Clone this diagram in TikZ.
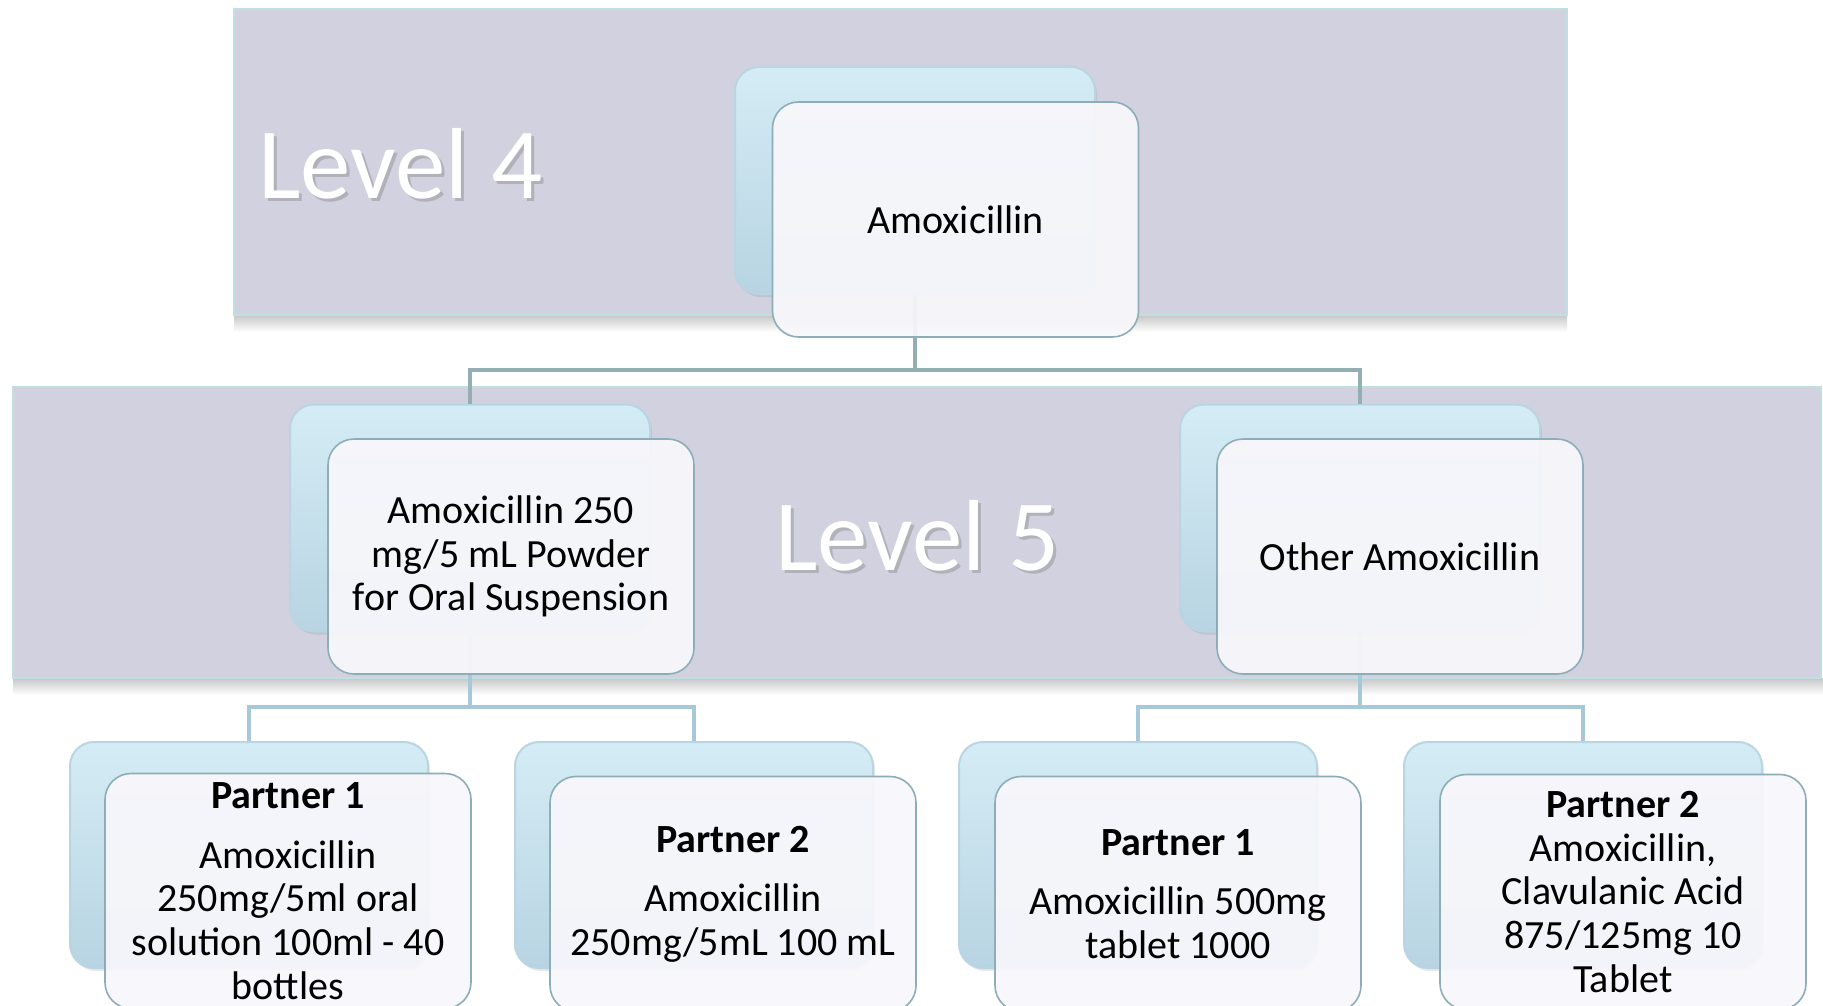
\documentclass[tikz,border=0pt]{standalone}
\usepackage{fontspec}
\setmainfont{Carlito}
\usetikzlibrary{calc,shadows}
\definecolor{bandfill}{HTML}{D1D1DF}
\definecolor{bandedge}{HTML}{BFDFE0}
\definecolor{backtop}{HTML}{D4ECF5}
\definecolor{backbot}{HTML}{B8D4E2}
\definecolor{backedge}{HTML}{BAD5E2}
\definecolor{frontfill}{HTML}{F8F7FB}
\definecolor{frontedge}{HTML}{8DAEB8}
\definecolor{connA}{HTML}{93AFB4}
\definecolor{connB}{HTML}{A7C8D9}
\begin{document}
\begin{tikzpicture}[x=1pt,y=-1pt,
  bandbox/.style={fill=bandfill,draw=bandedge,line width=2pt},
  bandshadow/.style={top color=black!22,bottom color=white,draw=none},
  backbox/.style={rounded corners=24pt,top color=backtop,bottom color=backbot,
     draw=backedge,line width=2pt,minimum width=360pt,minimum height=227pt,inner sep=0pt,
     drop shadow={opacity=0.18,shadow xshift=2pt,shadow yshift=-3pt}},
  frontbox/.style={rounded corners=26pt,fill=frontfill,fill opacity=0.93,text opacity=1,
     draw=frontedge,line width=1.6pt,minimum width=366pt,minimum height=235pt,inner sep=4pt,
     align=center,font=\fontsize{40}{43.6}\selectfont},
  levellabel/.style={anchor=base west,inner sep=0pt,text=white,font=\fontsize{101}{110}\selectfont},
  levelshadow/.style={anchor=base west,inner sep=0pt,text=black!45,text opacity=0.45,font=\fontsize{101}{110}\selectfont},
  connA/.style={draw=connA,line width=4.5pt},
  connB/.style={draw=connB,line width=4.5pt}]
\useasboundingbox (0,0) rectangle (1823,1006);
\clip (0,0) rectangle (1823,1006);
\fill[white] (0,0) rectangle (1823,1006);
% bands
\shade[bandshadow] (234,315) rectangle (1567,332);
\path[bandbox] (234,9) rectangle (1567,315);
\shade[bandshadow] (13,678) rectangle (1823,695);
\path[bandbox] (13,387) rectangle (1821,678);
% level labels
\node[levelshadow] (l4s) at (261,201) {Level 4};
\node[levellabel] (l4) at (258,198) {Level 4};
\node[levelshadow] (l5s) at (778,573) {Level 5};
\node[levellabel] (l5) at (775,570) {Level 5};
% coordinates for bars
\coordinate (bar1) at (915,370);
\coordinate (bar2) at (470,707);
\coordinate (bar3) at (1360,707);
% back boxes
\node[backbox] (a0) at (915,180.5) {};
\node[backbox] (b0) at (470,518) {};
\node[backbox] (c0) at (1360,518) {};
\node[backbox,minimum width=358pt,minimum height=226pt] (d0) at (249,855) {};
\node[backbox,minimum width=358pt,minimum height=226pt] (e0) at (694,855) {};
\node[backbox,minimum width=358pt,minimum height=226pt] (f0) at (1138,855) {};
\node[backbox,minimum width=358pt,minimum height=226pt] (g0) at (1583,855) {};
% connectors
\draw[connA] (a0.south) -- (bar1) -| (b0.north);
\draw[connA] (bar1) -| (c0.north);
\draw[connB] (b0.south) -- (bar2) -| (d0.north);
\draw[connB] (bar2) -| (e0.north);
\draw[connB] (c0.south) -- (bar3) -| (f0.north);
\draw[connB] (bar3) -| (g0.north);
% front boxes
\node[frontbox] (a) at (955.5,219.5) {Amoxicillin};
\node[frontbox] (b) at (511,556.5) {Amoxicillin 250\\mg/5 mL Powder\\for Oral Suspension};
\node[frontbox] (c) at (1400,556.5) {Other Amoxicillin};
\node[frontbox] (d) at (288,891) {{\bfseries Partner 1}\\[16pt]Amoxicillin\\250mg/5ml oral\\solution 100ml - 40\\bottles};
\node[frontbox] (e) at (733,894) {{\bfseries Partner 2}\\[16pt]Amoxicillin\\250mg/5mL 100 mL};
\node[frontbox] (f) at (1178,894) {{\bfseries Partner 1}\\[16pt]Amoxicillin 500mg\\tablet 1000};
\node[frontbox] (g) at (1623,892) {{\bfseries Partner 2}\\Amoxicillin,\\Clavulanic Acid\\875/125mg 10\\Tablet};
\end{tikzpicture}
\end{document}
